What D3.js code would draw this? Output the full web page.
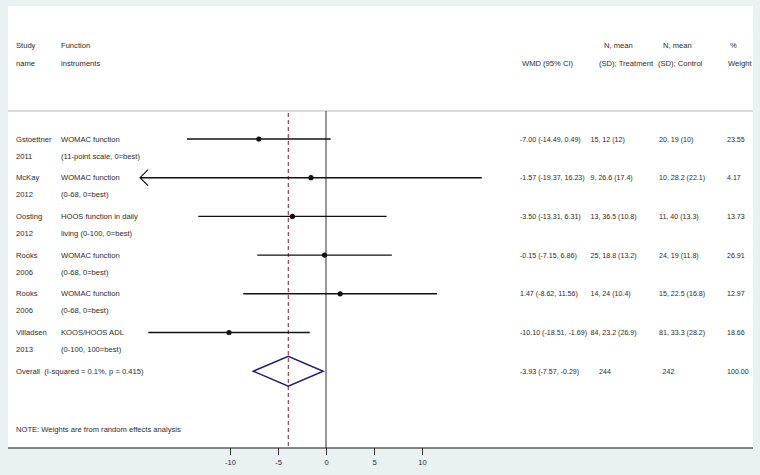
<!DOCTYPE html>
<html>
<head>
<meta charset="utf-8">
<script src="https://cdn.jsdelivr.net/npm/d3@7"></script>
<style>
body { margin: 0; background: #eaf1f3; }
text { font-family: "Liberation Sans", Arial, sans-serif; font-size: 7.6px; fill: #2b2b2b; white-space: pre; }
text.num { font-size: 7.1px; }
</style>
</head>
<body>
<svg id="graph"></svg>
<script>
var width = 760, height = 475;

// data
var studies = ["Gstoettner", "McKay", "Oosting", "Rooks", "Rooks", "Villadsen"];
var years = ["2011", "2012", "2012", "2006", "2006", "2013"];
var instr1 = ["WOMAC function", "WOMAC function", "HOOS function in daily", "WOMAC function", "WOMAC function", "KOOS/HOOS ADL"];
var instr2 = ["(11-point scale, 0=best)", "(0-68, 0=best)", "living (0-100, 0=best)", "(0-68, 0=best)", "(0-68, 0=best)", "(0-100, 100=best)"];
var es = [-7.00, -1.57, -3.50, -0.15, 1.47, -10.10];
var lo = [-14.49, -19.37, -13.31, -7.15, -8.62, -18.51];
var hi = [0.49, 16.23, 6.31, 6.86, 11.56, -1.69];
var treat = ["15, 12 (12)", "9, 26.6 (17.4)", "13, 36.5 (10.8)", "25, 18.8 (13.2)", "14, 24 (10.4)", "84, 23.2 (26.9)"];
var control = ["20, 19 (10)", "10, 28.2 (22.1)", "11, 40 (13.3)", "24, 19 (11.8)", "15, 22.5 (16.8)", "81, 33.3 (28.2)"];
var weights = ["23.55", "4.17", "13.73", "26.91", "12.97", "18.66"];
var overall = {es: -3.93, lo: -7.57, hi: -0.29, nT: "244", nC: "242", w: "100.00"};
var xTicks = [-10, -5, 0, 5, 10];
var xClip = -19.37; // lower plotting limit, arrow drawn beyond it

// plain hyphen instead of d3's unicode minus
function fmt(v) { return v.toFixed(2); }

var svg = d3.select("#graph")
    .attr("width", width)
    .attr("height", height);

var panelTop = 6, panelLeft = 8, panelRight = 753, axisY = 448, sepY = 111;

svg.append("rect")
    .attr("x", panelLeft).attr("y", panelTop)
    .attr("width", panelRight - panelLeft).attr("height", axisY - panelTop)
    .attr("fill", "#fff");

var x = d3.scaleLinear()
    .domain([-10, 10])
    .range([230, 422]);

var y = d3.scaleLinear()
    .domain([0, 1])
    .range([139, 177.7]);

// header
var head = svg.append("g");
[["Study", 16, 45], ["name", 16, 63], ["Function", 61, 45], ["instruments", 61, 63],
 ["WMD (95% CI)", 522, 63], ["N, mean", 604, 45], ["(SD); Treatment", 599, 63],
 ["N, mean", 663, 45], ["(SD); Control", 658, 63], ["%", 730, 45], ["Weight", 728, 63]]
    .forEach(function (h) {
        head.append("text").attr("x", h[1]).attr("y", h[2]).attr("dy", ".35em").text(h[0]);
    });

// separator
svg.append("line")
    .attr("x1", panelLeft).attr("x2", panelRight)
    .attr("y1", sepY).attr("y2", sepY)
    .attr("stroke", "#bbb").attr("stroke-width", 1);

// zero line
svg.append("line")
    .attr("x1", x(0)).attr("x2", x(0))
    .attr("y1", sepY).attr("y2", axisY)
    .attr("stroke", "#333").attr("stroke-width", 1);

// overall effect dashed line
svg.append("line")
    .attr("x1", x(overall.es)).attr("x2", x(overall.es))
    .attr("y1", sepY + 2).attr("y2", axisY)
    .attr("stroke", "#8b1c24").attr("stroke-width", 1)
    .attr("stroke-dasharray", "4,3");

// study rows
var idx = d3.range(studies.length);
var row = svg.selectAll("g.row")
    .data(idx)
    .enter().append("g")
    .attr("class", "row")
    .attr("transform", function (i) { return "translate(0," + y(i) + ")"; });

row.append("text").attr("x", 16).attr("dy", ".35em").text(function (i) { return studies[i]; });
row.append("text").attr("x", 16).attr("y", 17).attr("dy", ".35em").text(function (i) { return years[i]; });
row.append("text").attr("x", 61).attr("dy", ".35em").text(function (i) { return instr1[i]; });
row.append("text").attr("x", 61).attr("y", 17).attr("dy", ".35em").text(function (i) { return instr2[i]; });
row.append("text").attr("class", "num").attr("x", 520).attr("dy", ".35em").text(function (i) {
    return fmt(es[i]) + " (" + fmt(lo[i]) + ", " + fmt(hi[i]) + ")";
});
row.append("text").attr("class", "num").attr("x", 590.5).attr("dy", ".35em").text(function (i) { return treat[i]; });
row.append("text").attr("class", "num").attr("x", 659).attr("dy", ".35em").text(function (i) { return control[i]; });
row.append("text").attr("class", "num").attr("x", 727).attr("dy", ".35em").text(function (i) { return weights[i]; });

row.append("line")
    .attr("x1", function (i) { return x(Math.max(lo[i], xClip)); })
    .attr("x2", function (i) { return x(hi[i]); })
    .attr("stroke", "#111").attr("stroke-width", 1.4);

row.filter(function (i) { return lo[i] <= xClip; })
    .append("path")
    .attr("d", function () {
        var t = x(xClip);
        return "M" + (t + 8) + ",-8L" + t + ",0L" + (t + 8) + ",8";
    })
    .attr("fill", "none").attr("stroke", "#111").attr("stroke-width", 1.2);

row.append("circle")
    .attr("cx", function (i) { return x(es[i]); })
    .attr("r", 2.6)
    .attr("fill", "#111");

// overall row
var oy = y(studies.length);
svg.append("text").attr("x", 16).attr("y", oy).attr("dy", ".35em")
    .text("Overall  (I-squared = 0.1%, p = 0.415)");
svg.append("text").attr("class", "num").attr("x", 520).attr("y", oy).attr("dy", ".35em")
    .text(fmt(overall.es) + " (" + fmt(overall.lo) + ", " + fmt(overall.hi) + ")");
svg.append("text").attr("class", "num").attr("x", 599).attr("y", oy).attr("dy", ".35em").text(overall.nT);
svg.append("text").attr("class", "num").attr("x", 662.5).attr("y", oy).attr("dy", ".35em").text(overall.nC);
svg.append("text").attr("class", "num").attr("x", 727).attr("y", oy).attr("dy", ".35em").text(overall.w);

svg.append("path")
    .attr("d", "M" + x(overall.lo) + "," + oy +
        "L" + x(overall.es) + "," + (oy - 15) +
        "L" + x(overall.hi) + "," + oy +
        "L" + x(overall.es) + "," + (oy + 15) + "Z")
    .attr("fill", "none").attr("stroke", "#1f1f6b").attr("stroke-width", 1.5);

svg.append("text").attr("x", 16).attr("y", 429).attr("dy", ".35em")
    .text("NOTE: Weights are from random effects analysis");

// x axis
svg.append("line")
    .attr("x1", panelLeft).attr("x2", panelRight)
    .attr("y1", axisY).attr("y2", axisY)
    .attr("stroke", "#111").attr("stroke-width", 1);

var axis = svg.append("g")
    .attr("transform", "translate(0," + axisY + ")")
    .call(d3.axisBottom(x).tickValues(xTicks).tickSize(7).tickPadding(5)
        .tickFormat(function (d) { return String(d); }));
axis.select(".domain").remove();
axis.selectAll("line").attr("stroke", "#333");
axis.selectAll("text").attr("font-size", 7.6).attr("fill", "#2b2b2b");
</script>
</body>
</html>
